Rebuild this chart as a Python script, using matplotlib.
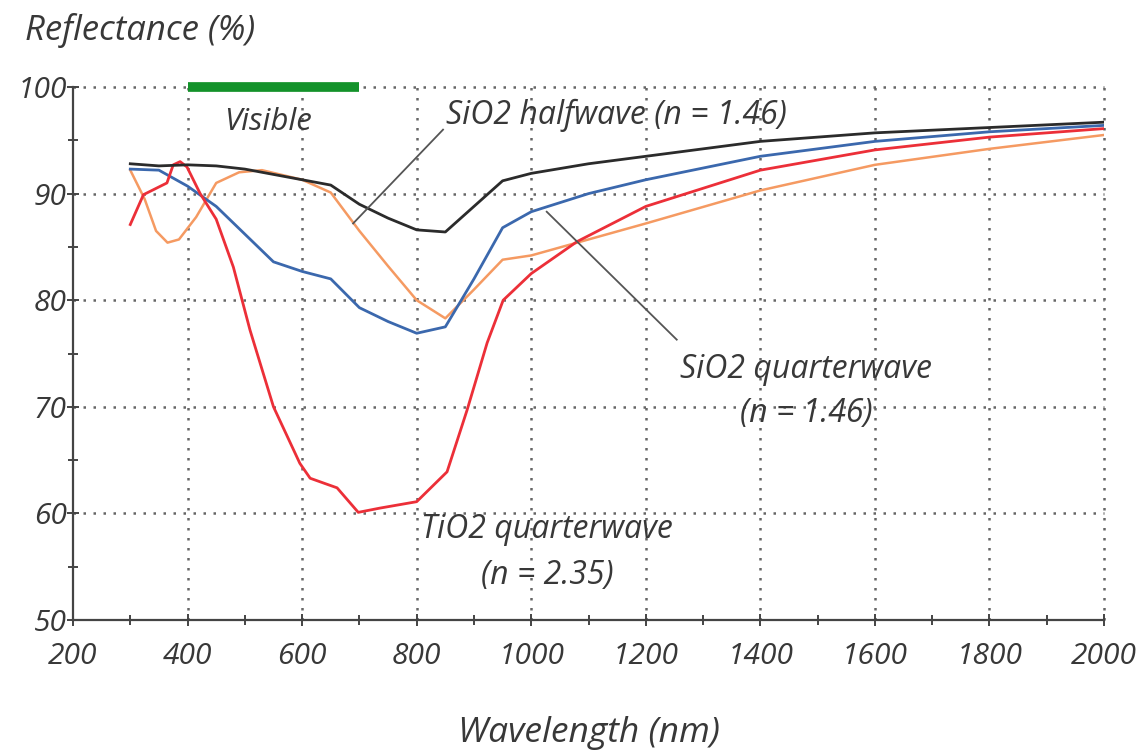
import matplotlib.pyplot as plt
from matplotlib.ticker import MultipleLocator

# wavelength (nm) / reflectance (%)
wl_half = [300, 350, 400, 450, 500, 550, 600, 650, 700, 750, 800, 850, 900, 950, 1000, 1100, 1200, 1400, 1600, 1800, 2000]
sio2_half = [92.8, 92.6, 92.7, 92.6, 92.3, 91.8, 91.3, 90.8, 89.0, 87.7, 86.6, 86.4, 88.8, 91.2, 91.9, 92.8, 93.5, 94.9, 95.7, 96.2, 96.7]

wl_quarter = [300, 350, 400, 450, 500, 550, 600, 650, 700, 750, 800, 850, 900, 950, 1000, 1100, 1200, 1400, 1600, 1800, 2000]
sio2_quarter = [92.3, 92.2, 90.7, 88.8, 86.2, 83.6, 82.7, 82.0, 79.3, 78.0, 76.9, 77.5, 82.0, 86.8, 88.3, 90.0, 91.3, 93.5, 94.9, 95.8, 96.4]

wl_orange = [300, 325, 345, 365, 385, 415, 450, 490, 530, 600, 650, 700, 750, 800, 850, 900, 950, 1000, 1100, 1200, 1400, 1600, 1800, 2000]
orange = [92.2, 89.5, 86.5, 85.4, 85.7, 87.8, 91.0, 92.0, 92.2, 91.3, 90.1, 86.5, 83.2, 80.0, 78.3, 81.0, 83.8, 84.2, 85.7, 87.2, 90.3, 92.7, 94.2, 95.5]

wl_tio2 = [300, 323, 364, 375, 387, 399, 422, 450, 480, 509, 550, 596, 614, 640, 661, 698, 736, 800, 853, 888, 923, 951, 1000, 1080, 1200, 1400, 1600, 1800, 2000]
tio2_quarter = [87.1, 89.9, 91.0, 92.7, 93.0, 92.5, 90.0, 87.6, 83.1, 77.2, 70.0, 64.7, 63.3, 62.8, 62.4, 60.1, 60.5, 61.1, 63.9, 69.7, 76.0, 80.0, 82.5, 85.5, 88.8, 92.2, 94.1, 95.3, 96.1]

visible_band = [400, 700]

plt.rcParams['font.family'] = ['Open Sans', 'DejaVu Sans']
txt = '#383838'

fig = plt.figure(figsize=(11.46, 7.54), dpi=100)
ax = fig.add_axes([0.0637, 0.1777, 0.8997, 0.7069])

# dotted grid
for x in range(400, 2001, 200):
    ax.plot([x, x], [50, 100], color='#666666', lw=1.8, ls=(0, (1, 3)), zorder=1, clip_on=False)
for y in range(60, 101, 10):
    ax.plot([200, 2000], [y, y], color='#666666', lw=1.8, ls=(0, (1, 3)), zorder=1, clip_on=False)

ax.plot(wl_orange, orange, color='#f59a62', lw=1.8, zorder=3)
ax.plot(wl_quarter, sio2_quarter, color='#3b68ad', lw=2.0, zorder=4)
ax.plot(wl_tio2, tio2_quarter, color='#ec2f38', lw=2.0, zorder=5)
ax.plot(wl_half, sio2_half, color='#2b2b2b', lw=2.0, zorder=6)

ax.plot(visible_band, [100, 100], color='#13922a', lw=7, solid_capstyle='butt', zorder=7, clip_on=False)
ax.text(463, 96.7, 'Visible', fontsize=22.5, style='italic', color=txt, ha='left', va='center')

# annotations
ax.plot([846, 689], [96.0, 87.2], color='#555555', lw=1.3, zorder=8)
ax.text(852, 97.3, 'SiO2 halfwave (n = 1.46)', fontsize=23, style='italic', color=txt, ha='left', va='center')
ax.plot([1027, 1254], [88.3, 76.3], color='#555555', lw=1.3, zorder=8)
ax.text(1480, 73.5, 'SiO2 quarterwave', fontsize=23, style='italic', color=txt, ha='center', va='center')
ax.text(1480, 69.4, '(n = 1.46)', fontsize=23, style='italic', color=txt, ha='center', va='center')
ax.text(1028, 58.5, 'TiO2 quarterwave', fontsize=23, style='italic', color=txt, ha='center', va='center')
ax.text(1028, 54.2, '(n = 2.35)', fontsize=23, style='italic', color=txt, ha='center', va='center')

ax.set_xlim(200, 2000)
ax.set_ylim(50, 100)
ax.xaxis.set_major_locator(MultipleLocator(200))
ax.xaxis.set_minor_locator(MultipleLocator(100))
ax.yaxis.set_major_locator(MultipleLocator(10))
ax.yaxis.set_minor_locator(MultipleLocator(5))
for s in ['top', 'right']:
    ax.spines[s].set_visible(False)
for s in ['left', 'bottom']:
    ax.spines[s].set_color('#444444')
    ax.spines[s].set_linewidth(1.6)
ax.tick_params(which='both', direction='inout', color='#444444', width=1.4, labelcolor=txt)
ax.tick_params(which='major', length=9)
ax.tick_params(which='minor', length=7)
ax.tick_params(axis='x', which='major', pad=11, labelsize=21.5)
ax.tick_params(axis='y', which='major', pad=0, labelsize=21.5)
for lab in ax.get_xticklabels() + ax.get_yticklabels():
    lab.set_style('italic')

fig.text(25 / 1146, 1 - 31 / 754, 'Reflectance (%)', fontsize=25, style='italic', color=txt, ha='left', va='center')
fig.text(589 / 1146, 1 - 733 / 754, 'Wavelength (nm)', fontsize=25.5, style='italic', color=txt, ha='center', va='center')

fig.savefig('out.png', dpi=100)
